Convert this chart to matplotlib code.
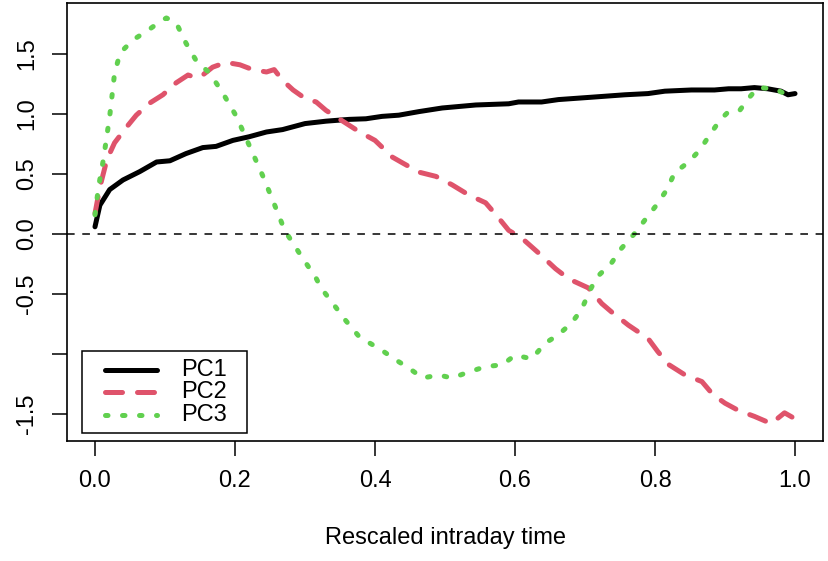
import numpy as np
import matplotlib.pyplot as plt
from matplotlib.patches import Rectangle

# PC loadings over rescaled intraday time
t_pc1 = [0.0, 0.007, 0.021, 0.04, 0.064, 0.088, 0.107, 0.13, 0.154, 0.173, 0.197,
         0.22, 0.245, 0.268, 0.30, 0.33, 0.363, 0.387, 0.41, 0.434, 0.463, 0.496,
         0.544, 0.591, 0.605, 0.638, 0.662, 0.71, 0.757, 0.79, 0.814, 0.852, 0.885,
         0.905, 0.923, 0.942, 0.961, 0.98, 0.99, 1.0]
pc1 = [0.06, 0.24, 0.37, 0.45, 0.52, 0.60, 0.61, 0.67, 0.72, 0.73, 0.78,
       0.81, 0.85, 0.87, 0.92, 0.94, 0.955, 0.96, 0.98, 0.99, 1.02, 1.05,
       1.075, 1.085, 1.10, 1.10, 1.12, 1.14, 1.16, 1.17, 1.19, 1.20, 1.20,
       1.21, 1.21, 1.22, 1.21, 1.19, 1.16, 1.17]

t_pc2 = [0.0, 0.007, 0.017, 0.028, 0.045, 0.059, 0.078, 0.097, 0.116, 0.133, 0.145,
         0.154, 0.168, 0.187, 0.207, 0.225, 0.245, 0.256, 0.268, 0.283, 0.30, 0.316,
         0.33, 0.354, 0.378, 0.40, 0.425, 0.44, 0.463, 0.487, 0.51, 0.534, 0.558,
         0.575, 0.591, 0.61, 0.634, 0.658, 0.677, 0.705, 0.724, 0.738, 0.762, 0.79,
         0.804, 0.82, 0.843, 0.867, 0.883, 0.90, 0.919, 0.942, 0.966, 0.985, 1.0]
pc2 = [0.17, 0.39, 0.62, 0.76, 0.89, 0.99, 1.09, 1.16, 1.26, 1.325, 1.30,
       1.325, 1.39, 1.43, 1.41, 1.37, 1.35, 1.37, 1.28, 1.20, 1.13, 1.10,
       1.03, 0.94, 0.85, 0.78, 0.64, 0.59, 0.515, 0.48, 0.41, 0.325, 0.26,
       0.145, 0.03, -0.036, -0.16, -0.29, -0.375, -0.45, -0.58, -0.65, -0.76, -0.87,
       -0.98, -1.09, -1.175, -1.23, -1.34, -1.41, -1.47, -1.52, -1.58, -1.49, -1.54]

t_pc3 = [0.0, 0.005, 0.012, 0.021, 0.028, 0.036, 0.055, 0.074, 0.093, 0.102, 0.116,
         0.13, 0.145, 0.164, 0.183, 0.202, 0.221, 0.24, 0.254, 0.271, 0.292, 0.316,
         0.323, 0.34, 0.358, 0.378, 0.387, 0.41, 0.43, 0.449, 0.468, 0.491, 0.51,
         0.534, 0.558, 0.582, 0.60, 0.624, 0.643, 0.662, 0.681, 0.695, 0.707, 0.717,
         0.738, 0.752, 0.771, 0.786, 0.802, 0.817, 0.828, 0.848, 0.864, 0.878, 0.893,
         0.905, 0.921, 0.935, 0.947, 0.971, 0.985, 0.997]
pc3 = [0.16, 0.39, 0.62, 0.98, 1.34, 1.51, 1.62, 1.69, 1.77, 1.80, 1.76,
       1.59, 1.44, 1.34, 1.17, 0.98, 0.73, 0.48, 0.28, 0.03, -0.16, -0.37,
       -0.45, -0.58, -0.72, -0.86, -0.89, -0.97, -1.05, -1.12, -1.20, -1.175, -1.20,
       -1.15, -1.105, -1.09, -1.01, -1.04, -0.91, -0.84, -0.74, -0.63, -0.47, -0.36,
       -0.24, -0.12, 0.005, 0.12, 0.24, 0.37, 0.51, 0.60, 0.70, 0.825, 0.95,
       1.02, 1.03, 1.14, 1.22, 1.21, 1.17, 1.13]

labels = ["PC1", "PC2", "PC3"]
colors = ["black", "#DF536B", "#61D04F"]
yticks = [-1.5, -1.0, -0.5, 0.0, 0.5, 1.0, 1.5]
yticklabels = ["-1.5", "", "-0.5", "0.0", "0.5", "1.0", "1.5"]
xticks = [0.0, 0.2, 0.4, 0.6, 0.8, 1.0]

plt.rcParams["font.family"] = ["Liberation Sans", "DejaVu Sans"]
FS = 17

fig = plt.figure(figsize=(8.29, 5.61), dpi=100)
ax = fig.add_axes([0.0808, 0.2139, 0.912, 0.7808])

lw = 3.6
styles = [dict(solid_capstyle="round", solid_joinstyle="round"),
          dict(dashes=(3.4, 3.0), dash_capstyle="round", dash_joinstyle="round"),
          dict(dashes=(0.5, 2.9), dash_capstyle="round", dash_joinstyle="round")]
series = [(t_pc1, pc1), (t_pc2, pc2), (t_pc3, pc3)]
for (t, v), c, st, lab in zip(series, colors, styles, labels):
    ax.plot(t, v, color=c, lw=lw, label=lab, **st)
ax.axhline(0, color="black", lw=1.1, dashes=(5, 5))

ax.set_xlim(-0.04, 1.04)
ax.set_ylim(-1.725, 1.925)
ax.set_xticks(xticks)
ax.set_xticklabels([f"{v:.1f}" for v in xticks], fontsize=FS)
ax.set_yticks(yticks)
ax.set_yticklabels(yticklabels, fontsize=FS, rotation=90, va="center")
ax.tick_params(axis="both", length=11, width=1.1, color="black", direction="out")
ax.tick_params(axis="x", pad=10)
ax.tick_params(axis="y", pad=10)
for s in ax.spines.values():
    s.set_linewidth(1.2)
ax.set_xlabel("Rescaled intraday time", fontsize=FS, labelpad=25)

# R-style legend box, laid out in axes fractions
ax.add_patch(Rectangle((0.0198, 0.0183), 0.2183, 0.1872, transform=ax.transAxes,
                       facecolor="white", edgecolor="black", lw=1.1, zorder=5))
rows = [0.1632, 0.1119, 0.0605]
for y, c, st, lab in zip(rows, colors, styles, labels):
    ax.plot([0.0503, 0.119], [y, y], transform=ax.transAxes, color=c, lw=lw,
            zorder=6, clip_on=False, **st)
    ax.text(0.1508, y, lab, transform=ax.transAxes, fontsize=FS, va="center",
            ha="left", zorder=6)

fig.savefig("out.png", dpi=100)
